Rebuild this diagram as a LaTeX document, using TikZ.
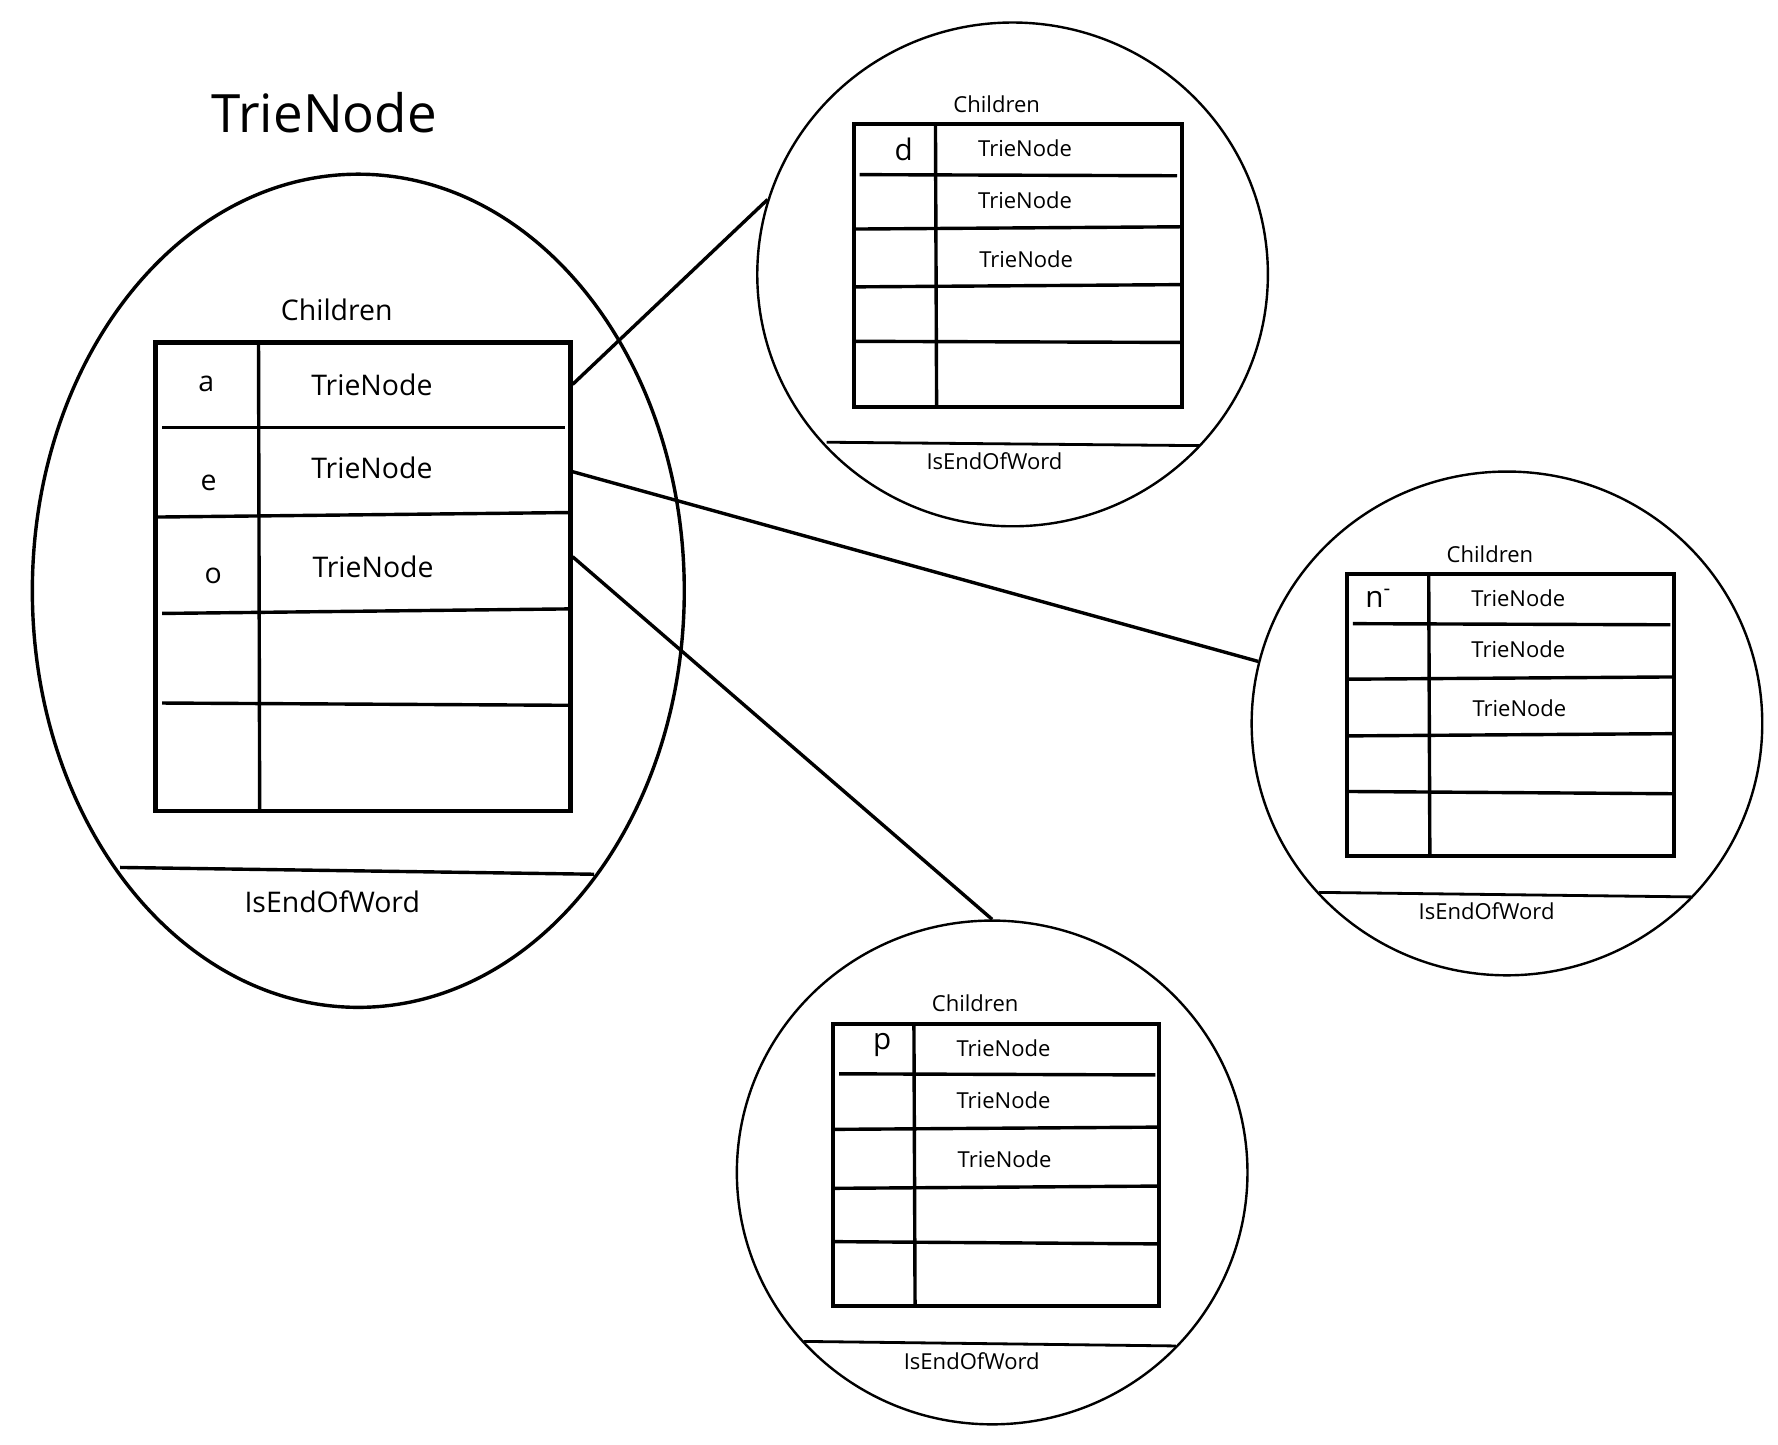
\documentclass[tikz,border=0pt]{standalone}
\usepackage{fontspec}
\setmainfont{Open Sans}
\usetikzlibrary{shapes.geometric, positioning}
\tikzset{
  bubble/.style={
    ellipse, draw, line width=0.6pt, inner sep=0pt,
    minimum width=4.48cm, minimum height=4.42cm
  },
  frame/.style={line width=1.1pt},
  rowline/.style={line width=0.85pt},
  bigtxt/.style={font=\fontsize{7.1}{8}\selectfont, inner sep=0pt},
  smalltxt/.style={font=\fontsize{5.5}{6}\selectfont, inner sep=0pt},
  keytxt/.style={font=\fontsize{7.4}{8}\selectfont, inner sep=0pt},
  link/.style={line width=0.85pt}
}
\begin{document}
\begin{tikzpicture}[x=0.00995cm, y=-0.00995cm]
\useasboundingbox (0cm,0cm) rectangle (15.6cm,-12.67cm);

% root node
\node[font=\fontsize{13.2}{15}\selectfont, inner sep=0pt] (title) at (286,99) {TrieNode};
\node[bubble, line width=0.85pt, minimum width=5.72cm, minimum height=7.31cm] (root) at (316,521) {};
\node[bigtxt] (rootkids) at (297,273) {Children};
\draw[frame] (137,302) rectangle (503,715);
\draw[rowline] (228,304) -- (229,714);
\draw[rowline] (143,377) -- (498,377);
\draw[rowline] (137,456) -- (503,452);
\draw[rowline] (143,541) -- (501,537);
\draw[rowline] (143,620) -- (501,622);
\node[bigtxt] (keyA) at (182,339) {a};
\node[bigtxt] (keyE) at (184,426) {e};
\node[bigtxt] (keyO) at (188,508) {o};
\node[bigtxt] (ptrA) at (328,339) {TrieNode};
\node[bigtxt] (ptrE) at (328,413) {TrieNode};
\node[bigtxt] (ptrO) at (329,500) {TrieNode};
\draw[rowline] (106,765) -- (524,771);
\node[bigtxt] (rootend) at (293,795) {IsEndOfWord};
\coordinate (outA) at (505,339);
\coordinate (outE) at (505,416);
\coordinate (outO) at (505,491);

% child d
\node[bubble] (nodeD) at (893,242) {};
\node[smalltxt] (kidsD) at (879,92) {Children};
\draw[frame, line width=1pt] (753,109) rectangle (1042,359);
\draw[rowline] (825,111) -- (826,358);
\draw[rowline] (758,154) -- (1038,155);
\draw[rowline] (753,202) -- (1042,200);
\draw[rowline] (753,253) -- (1042,251);
\draw[rowline] (753,301) -- (1042,302);
\node[keytxt] (keyD) at (797,132) {d};
\node[smalltxt] (ptrD1) at (904,131) {TrieNode};
\node[smalltxt] (ptrD2) at (904,177) {TrieNode};
\node[smalltxt] (ptrD3) at (905,229) {TrieNode};
\draw[rowline, line width=0.7pt] (729,390) -- (1058,393);
\node[smalltxt] (endD) at (877,407) {IsEndOfWord};

% child n
\node[bubble] (nodeN) at (1329,638) {};
\node[smalltxt] (kidsN) at (1314,489) {Children};
\draw[frame, line width=1pt] (1188,506) rectangle (1476,755);
\draw[rowline] (1260,508) -- (1261,754);
\draw[rowline] (1193,550) -- (1473,551);
\draw[rowline] (1188,599) -- (1476,597);
\draw[rowline] (1188,649) -- (1476,647);
\draw[rowline] (1188,698) -- (1476,700);
\node[keytxt] (keyN) at (1216,528) {n\textsuperscript{-}};
\node[smalltxt] (ptrN1) at (1339,528) {TrieNode};
\node[smalltxt] (ptrN2) at (1339,573) {TrieNode};
\node[smalltxt] (ptrN3) at (1340,625) {TrieNode};
\draw[rowline, line width=0.7pt] (1163,787) -- (1493,791);
\node[smalltxt] (endN) at (1311,804) {IsEndOfWord};

% child p
\node[bubble] (nodeP) at (875,1034) {};
\node[smalltxt] (kidsP) at (860,885) {Children};
\draw[frame, line width=1pt] (735,903) rectangle (1022,1152);
\draw[rowline] (806,905) -- (807,1151);
\draw[rowline] (740,947) -- (1019,948);
\draw[rowline] (735,996) -- (1022,994);
\draw[rowline] (735,1048) -- (1022,1046);
\draw[rowline] (735,1095) -- (1022,1097);
\node[keytxt] (keyP) at (778,922) {p};
\node[smalltxt] (ptrP1) at (885,924) {TrieNode};
\node[smalltxt] (ptrP2) at (885,970) {TrieNode};
\node[smalltxt] (ptrP3) at (886,1022) {TrieNode};
\draw[rowline, line width=0.7pt] (709,1183) -- (1037,1187);
\node[smalltxt] (endP) at (857,1200) {IsEndOfWord};

% links
\draw[link] (outA) -- (nodeD.163);
\draw[link] (outE) -- (nodeN.166);
\draw[link] (outO) -- (nodeP.north);
\end{tikzpicture}
\end{document}
